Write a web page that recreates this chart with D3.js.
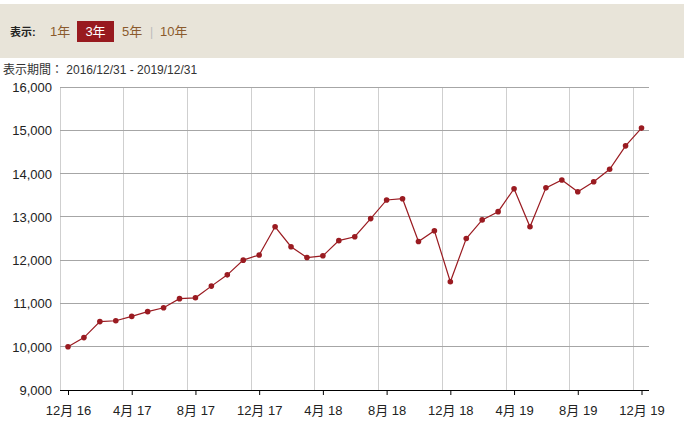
<!DOCTYPE html>
<html>
<head>
<meta charset="utf-8">
<script src="https://cdn.jsdelivr.net/npm/d3@7"></script>
<style>
  body { margin: 0; background: #fff; font-family: "Liberation Sans", Arial, "Noto Sans CJK JP", sans-serif; }
  svg { display: block; }
</style>
</head>
<body>
<svg id="chart" width="688" height="424"></svg>
<script>
// monthly values, 2016/12/31 .. 2019/12/31
const values = [
  10000, 10210, 10580, 10600, 10700, 10810, 10900, 11110, 11130, 11400, 11660, 12000,
  12120, 12770, 12310, 12060, 12100, 12450, 12540, 12960, 13390, 13420, 12430, 12680,
  11500, 12500, 12930, 13120, 13650, 12770, 13670, 13850, 13580, 13810, 14100, 14640,
  15050
];
const tickLabels = ['12月 16', '4月 17', '8月 17', '12月 17', '4月 18', '8月 18', '12月 18', '4月 19', '8月 19', '12月 19'];
const yTicks = [9000, 10000, 11000, 12000, 13000, 14000, 15000, 16000];
const periodButtons = ['1年', '3年', '5年', '10年'];
const activeButton = '3年';

const svg = d3.select('#chart');
const red = '#9a1b21';

// header band
svg.append('rect').attr('x', 0).attr('y', 4).attr('width', 684).attr('height', 54).attr('fill', '#e8e4d9');
svg.append('text').attr('x', 10).attr('y', 36).attr('font-size', 11).attr('font-weight', 'bold')
  .attr('fill', '#222').text('表示:');

const btnX = [50, 77, 122, 160];
periodButtons.forEach((b, i) => {
  if (b === activeButton) {
    svg.append('rect').attr('x', btnX[i]).attr('y', 21).attr('width', 37).attr('height', 21).attr('fill', '#981a1f');
    svg.append('text').attr('x', btnX[i] + 18.5).attr('y', 36).attr('text-anchor', 'middle')
      .attr('font-size', 13).attr('fill', '#fff').text(b);
  } else {
    svg.append('text').attr('x', btnX[i]).attr('y', 36).attr('font-size', 13).attr('fill', '#8a5a2c').text(b);
  }
});
svg.append('text').attr('x', 150).attr('y', 36).attr('font-size', 12).attr('fill', '#bbb').text('|');

svg.append('text').attr('x', 3).attr('y', 74).attr('font-size', 12).attr('fill', '#333')
  .text('表示期間： 2016/12/31 - 2019/12/31');

// plot
const plotL = 60, plotR = 649, plotT = 87, plotB = 390;
const x = d3.scaleLinear().domain([0, values.length - 1]).range([68, 641.5]);
const y = d3.scaleLinear().domain([9000, 16000]).range([plotB, plotT]);

const g = svg.append('g');

// vertical gridlines, half a month before each tick
const gridIdx = d3.range(0, 37, 4).map(i => i - 0.5).filter(i => i > 0);
g.selectAll('.vgrid').data([null].concat(gridIdx)).join('line')
  .attr('x1', d => d === null ? plotL : x(d)).attr('x2', d => d === null ? plotL : x(d))
  .attr('y1', plotT).attr('y2', plotB)
  .attr('stroke', '#cfcfcf').attr('stroke-width', 1).attr('shape-rendering', 'crispEdges');

// horizontal gridlines
g.selectAll('.hgrid').data(yTicks.slice(1)).join('line')
  .attr('x1', plotL).attr('x2', plotR)
  .attr('y1', d => y(d)).attr('y2', d => y(d))
  .attr('stroke', '#a6a6a6').attr('stroke-width', 1).attr('shape-rendering', 'crispEdges');

// y labels
g.selectAll('.ylab').data(yTicks).join('text')
  .attr('x', 52).attr('y', d => y(d) + 5)
  .attr('text-anchor', 'end').attr('font-size', 13).attr('fill', '#222')
  .text(d => d3.format(',')(d));

// x axis
const xAxis = d3.axisBottom(x)
  .tickValues(d3.range(0, 37, 4))
  .tickSize(5).tickSizeOuter(0)
  .tickFormat((d, i) => tickLabels[i]);
const ax = g.append('g').attr('transform', `translate(0,${plotB})`).call(xAxis);
ax.select('.domain').attr('d', `M${plotL},0.5H${plotR}`).attr('stroke', '#000');
ax.selectAll('.tick line').attr('stroke', '#000');
ax.selectAll('.tick text').attr('font-size', 13).attr('fill', '#222').attr('dy', '1.3em')
  .style('font-family', '"Liberation Sans", Arial, "Noto Sans CJK JP", sans-serif');

// line
const line = d3.line().x((d, i) => x(i)).y(d => y(d));
g.append('path').datum(values)
  .attr('d', line).attr('fill', 'none').attr('stroke', red).attr('stroke-width', 1.2);

g.selectAll('.pt').data(values).join('circle')
  .attr('cx', (d, i) => x(i)).attr('cy', d => y(d)).attr('r', 2.8).attr('fill', red);
</script>
</body>
</html>
